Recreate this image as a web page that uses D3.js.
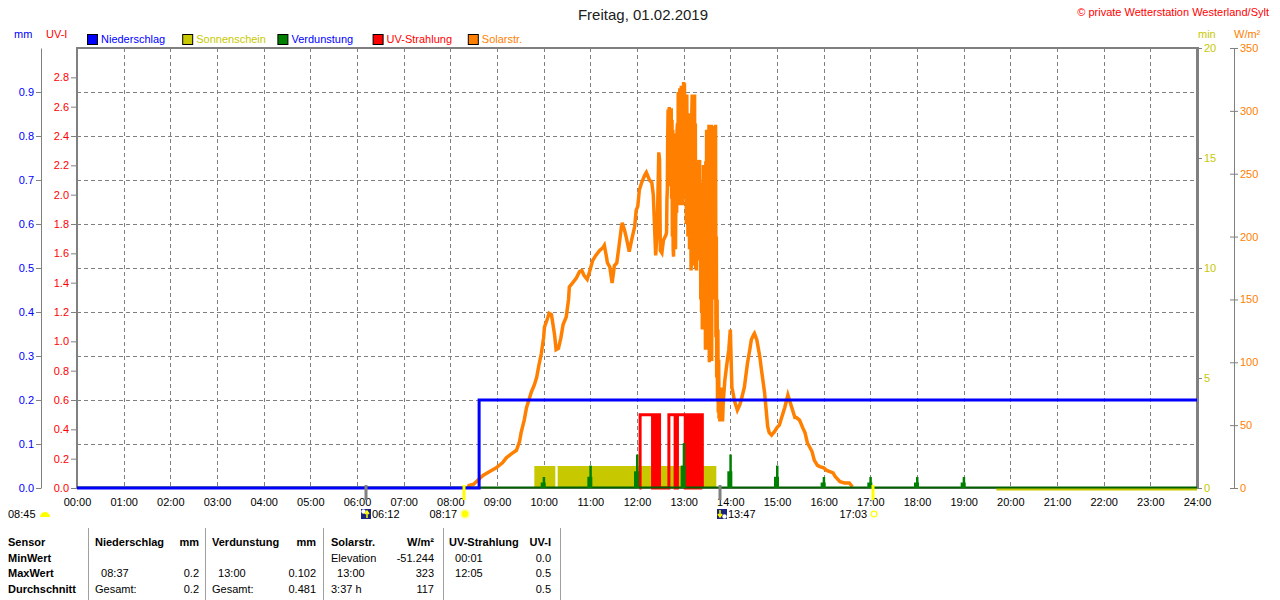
<!DOCTYPE html>
<html>
<head>
<meta charset="utf-8">
<script src="https://cdn.jsdelivr.net/npm/d3@7"></script>
<style>
body { margin: 0; background: #fff; }
svg text { font-family: "Liberation Sans", Arial, sans-serif; font-size: 11px; }
</style>
</head>
<body>
<svg id="chart" width="1280" height="600"></svg>
<script>
// ---- data ----
var hourTicks = [0,1,2,3,4,5,6,7,8,9,10,11,12,13,14,15,16,17,18,19,20,21,22,23,24];
var hourLabels = ["00:00","01:00","02:00","03:00","04:00","05:00","06:00","07:00","08:00","09:00","10:00","11:00",
    "12:00","13:00","14:00","15:00","16:00","17:00","18:00","19:00","20:00","21:00","22:00","23:00","24:00"];
var mmTicks = [0,0.1,0.2,0.3,0.4,0.5,0.6,0.7,0.8,0.9];
var uvTicks = [0,0.2,0.4,0.6,0.8,1.0,1.2,1.4,1.6,1.8,2.0,2.2,2.4,2.6,2.8];
var minTicks = [0,5,10,15,20];
var wTicks = [0,50,100,150,200,250,300,350];

var legendNames = ["Niederschlag","Sonnenschein","Verdunstung","UV-Strahlung","Solarstr."];
var legendFill = ["#0000ff","#c8c800","#008000","#ff0000","#ff8000"];
var legendText = ["#0000ff","#c8c800","#0000ff","#ff0000","#ff8000"];

// Niederschlag (mm, cumulative)
var rainTime = ["00:00","08:37","24:00"];
var rainValue = [0, 0.2, 0.2];

// Sonnenschein (min)
var sunStart = ["09:48","10:18","19:42"];
var sunEnd   = ["10:15","13:42","24:00"];
var sunValue = [1, 1, 0];

// Verdunstung (mm per hour)
var evapTime  = ["10:00","11:00","12:00","13:00","14:00","15:00","16:00","17:00","18:00","19:00"];
var evapValue = [0.025, 0.051, 0.076, 0.102, 0.076, 0.051, 0.025, 0.025, 0.025, 0.025];

// UV-Strahlung (UV-I)
var uvTime = ["12:03","12:04","12:20","12:21","12:22","12:23","12:24","12:25","12:26","12:27","12:29",
    "12:41","12:49","12:50","12:51","12:52","13:02","13:03","13:04","13:05","13:06","13:07","13:08","13:09",
    "13:10","13:11","13:12","13:13","13:15","13:16","13:17","13:18","13:19","13:20","13:21","13:22","13:24"];
var uvValue = [0,0.5,0,0.5,0,0.5,0,0.5,0,0.5,0,
    0.5,0,0.5,0,0.5,0,0.5,0,0.5,0,0.5,0,0.5,
    0,0.5,0,0.5,0,0.4,0,0.5,0,0.3,0,0.5,0];

// Solarstrahlung (W/m²)
var solarTime = ["08:23","08:24","08:30","08:35","08:42","08:50","08:59","09:07","09:12","09:18","09:25","09:29",
    "09:31","09:35","09:38","09:42","09:44","09:48","09:51","09:54","09:57","10:00","10:01","10:05","10:07","10:10",
    "10:11","10:14","10:16","10:19","10:22","10:25","10:29","10:32","10:33","10:37","10:42","10:46","10:49","10:52",
    "10:56","10:59","11:03","11:07","11:12","11:16","11:18","11:21","11:22","11:25","11:28","11:31","11:34","11:37",
    "11:40","11:41","11:44","11:46","11:50","11:53","11:57","11:59","12:01","12:03","12:06","12:10","12:12","12:16",
    "12:19","12:21","12:22","12:24","12:25","12:26","12:28","12:29","12:30","12:32","12:34","12:37",
    "12:38:00","12:38:30","12:39:00","12:39:30","12:40:00","12:40:30","12:41:00","12:41:30","12:42:00","12:42:30",
    "12:43:00","12:43:30","12:44:00","12:44:30","12:45:00","12:45:30","12:46:00","12:46:30","12:47:00","12:47:30",
    "12:48:00","12:48:30","12:49:00","12:49:30","12:50:00","12:50:30","12:51:00","12:51:30","12:52:00","12:52:30",
    "12:53:00","12:53:30","12:54:00","12:54:30","12:55:00","12:55:30","12:56:00","12:56:30","12:57:00","12:57:30",
    "12:58:00","12:58:30","12:59:00","12:59:30","13:00:00","13:00:30","13:01:00","13:01:30","13:02:00","13:02:30",
    "13:03:00","13:03:30","13:04:00","13:04:30","13:05:00","13:05:30","13:06:00","13:06:30","13:07:00","13:07:30",
    "13:08:00","13:08:30","13:09:00","13:09:30","13:10:00","13:10:30","13:11:00","13:11:30","13:12:00","13:12:30",
    "13:13:00","13:13:30","13:14:00","13:14:30","13:15:00","13:15:30","13:16:00","13:16:30","13:17:00","13:17:30",
    "13:18:00","13:18:30","13:19:00","13:19:30","13:20:00","13:20:30","13:21:00","13:21:30","13:22:00","13:22:30",
    "13:23:00","13:23:30","13:24:00","13:24:30","13:25:00","13:25:30","13:26:00","13:26:30","13:27:00","13:27:30",
    "13:28:00","13:28:30","13:29:00","13:29:30","13:30:00","13:30:30","13:31:00","13:31:30","13:32:00","13:32:30",
    "13:33:00","13:33:30","13:34:00","13:34:30","13:35:00","13:35:30","13:36:00","13:36:30","13:37:00","13:37:30",
    "13:38:00","13:38:30","13:39:00","13:39:30","13:40:00","13:40:30","13:41:00","13:41:30","13:42:00","13:42:30",
    "13:43:00","13:43:30","13:44:00","13:44:30","13:45:00","13:45:30","13:46:00","13:46:30","13:47:00",
    "13:49","13:50","13:51","13:53","13:55","13:58","14:00","14:02","14:04","14:05","14:08","14:09","14:12","14:14",
    "14:18","14:22","14:25","14:27","14:30","14:31","14:34","14:38","14:40","14:44","14:48","14:50","14:53","14:57",
    "15:00","15:03","15:06","15:10","15:14","15:16","15:19","15:23","15:25","15:29","15:33","15:36","15:39","15:45",
    "15:48","15:52","15:55","16:00","16:04","16:08","16:12","16:15","16:21","16:27","16:33","16:37"];
var solarValue = [0,2,3,6,10,13,16,20,24,27,30,37,
    44,54,64,72,76,82,88,98,107,120,128,135,139,138,
    134,122,110,111,119,130,136,150,160,163,167,172,173,169,
    166,172,181,185,189,191,193,183,179,176,163,177,179,193,
    208,211,205,200,188,197,208,221,224,237,243,249,251,245,
    243,233,217,185,195,205,267,261,189,187,197,201,
    203,230,237,280,301,250,296,303,240,298,
    245,290,302,230,293,200,285,190,184,270,
    282,210,260,190,229,275,219,285,290,230,
    315,240,305,225,318,250,318,235,320,260,
    315,225,239,310,323,270,322,240,239,305,
    313,210,313,250,295,200,207,290,298,190,
    298,208,280,173,180,300,313,200,313,177,
    305,180,313,177,290,175,260,173,250,185,
    261,181,240,183,230,261,183,243,150,243,
    140,229,126,240,150,257,130,255,134,230,
    110,260,120,285,130,240,110,250,120,289,
    100,270,115,285,105,289,101,280,150,288,
    181,250,150,230,184,150,289,120,200,88,
    150,70,126,60,102,55,68,53,70,
    80,53,70,86,96,110,126,80,74,70,64,62,66,70,
    80,99,110,118,122,123,118,104,94,76,49,44,42,45,
    48,50,56,64,74,70,64,56,56,54,48,44,36,29,
    22,18,17,16,14,13,12,9,5,4,4,1];

// Sonne / Mond
var sunrise = "08:17", sunset = "17:03", dayLength = "08:45";
var moonrise = "06:12", moonset = "13:47";

// Tabelle
var tableHead = ["Sensor","Niederschlag","mm","Verdunstung","mm","Solarstr.","W/m²","UV-Strahlung","UV-I"];
var rowLabels = ["MinWert","MaxWert","Durchschnitt"];
var rainRows  = [["",""],["  08:37","0.2"],["Gesamt:","0.2"]];
var evapRows  = [["",""],["  13:00","0.102"],["Gesamt:","0.481"]];
var solarRows = [["Elevation","-51.244"],["  13:00","323"],["3:37 h","117"]];
var uvRows    = [["  00:01","0.0"],["  12:05","0.5"],["","0.5"]];

// ---- chart ----
function toHour(s) {
    var p = s.split(":");
    return +p[0] + (+p[1]) / 60 + (p.length > 2 ? +p[2] / 3600 : 0);
}

var svg = d3.select("#chart");
var margin = {top: 48, right: 1197, bottom: 488, left: 77};

var x = d3.scaleLinear().domain([0, 24]).range([margin.left, margin.right]);
var yMm = d3.scaleLinear().domain([0, 1]).range([margin.bottom, margin.top]);
var yUv = d3.scaleLinear().domain([0, 3]).range([margin.bottom, margin.top]);
var yMin = d3.scaleLinear().domain([0, 20]).range([margin.bottom, margin.top]);
var yW = d3.scaleLinear().domain([0, 350]).range([margin.bottom, margin.top]);

var grey = "#808080";

// title + copyright
svg.append("text").attr("x", 643).attr("y", 20).attr("text-anchor", "middle")
    .style("font-size", "15px").attr("fill", "#202020").text("Freitag, 01.02.2019");
svg.append("text").attr("x", 1269).attr("y", 16).attr("text-anchor", "end")
    .attr("fill", "#ff0000").text("© private Wetterstation Westerland/Sylt");

// unit labels
svg.append("text").attr("x", 14).attr("y", 38).attr("fill", "#0000ff").text("mm");
svg.append("text").attr("x", 46).attr("y", 38).attr("fill", "#ff0000").text("UV-I");
svg.append("text").attr("x", 1198).attr("y", 38).attr("fill", "#c8c800").text("min");
svg.append("text").attr("x", 1234).attr("y", 38).attr("fill", "#ff8000").text("W/m²");

// legend
var legend = svg.append("g").selectAll("g").data(legendNames).join("g")
    .attr("transform", function(d, i) { return "translate(" + (87 + i * 95.2) + ",34)"; });
legend.append("rect").attr("x", 0.5).attr("y", 0.5).attr("width", 10).attr("height", 10)
    .attr("fill", function(d, i) { return legendFill[i]; }).attr("stroke", "#000");
legend.append("text").attr("x", 14).attr("y", 9)
    .attr("fill", function(d, i) { return legendText[i]; }).text(function(d) { return d; });

// grid
svg.append("g").selectAll("line").data(hourTicks.slice(1, -1)).join("line")
    .attr("x1", function(d) { return Math.round(x(d)) + 0.5; })
    .attr("x2", function(d) { return Math.round(x(d)) + 0.5; })
    .attr("y1", margin.top).attr("y2", margin.bottom)
    .attr("stroke", grey).attr("stroke-dasharray", "4,3");
svg.append("g").selectAll("line").data(mmTicks.slice(1)).join("line")
    .attr("x1", margin.left).attr("x2", margin.right)
    .attr("y1", function(d) { return Math.round(yMm(d)) + 0.5; })
    .attr("y2", function(d) { return Math.round(yMm(d)) + 0.5; })
    .attr("stroke", grey).attr("stroke-dasharray", "4,3");

// axes
function styleAxis(g, color) {
    g.selectAll("line").attr("stroke", grey);
    g.selectAll("path").attr("stroke", grey);
    g.selectAll("text").attr("fill", color)
        .style("font-family", "'Liberation Sans', Arial, sans-serif").style("font-size", "11px");
}
var f1 = d3.format(".1f");
svg.append("g").attr("transform", "translate(41,0)")
    .call(d3.axisLeft(yMm).tickValues(mmTicks).tickFormat(f1).tickSize(5).tickSizeOuter(0).tickPadding(2))
    .call(styleAxis, "#0000ff");
svg.append("g").attr("transform", "translate(" + margin.left + ",0)")
    .call(d3.axisLeft(yUv).tickValues(uvTicks).tickFormat(f1).tickSize(6).tickSizeOuter(0).tickPadding(2))
    .call(function(g) { g.select(".domain").remove(); })
    .call(styleAxis, "#ff0000");
svg.append("g").attr("transform", "translate(" + margin.right + ",0)")
    .call(d3.axisRight(yMin).tickValues(minTicks).tickSize(5).tickSizeOuter(0).tickPadding(2))
    .call(function(g) { g.select(".domain").remove(); })
    .call(styleAxis, "#c8c800");
svg.append("line").attr("x1", 1234.5).attr("x2", 1234.5).attr("y1", margin.top).attr("y2", margin.bottom)
    .attr("stroke", grey);
svg.append("g").attr("transform", "translate(1230,0)")
    .call(d3.axisRight(yW).tickValues(wTicks).tickSize(8).tickSizeOuter(0).tickPadding(2))
    .call(function(g) { g.select(".domain").remove(); })
    .call(styleAxis, "#ff8000");
svg.append("g").attr("transform", "translate(0," + margin.bottom + ")")
    .call(d3.axisBottom(x).tickValues(hourTicks).tickFormat(function(d, i) { return hourLabels[i]; })
        .tickSize(0).tickPadding(10))
    .call(function(g) { g.select(".domain").remove(); })
    .call(styleAxis, "#000");

// plot border
svg.append("rect").attr("x", margin.left).attr("y", margin.top)
    .attr("width", margin.right - margin.left).attr("height", margin.bottom - margin.top)
    .attr("fill", "none").attr("stroke", grey).attr("stroke-width", 2);
svg.append("line").attr("x1", margin.right + 0.5).attr("x2", margin.right + 0.5)
    .attr("y1", margin.top - 1).attr("y2", margin.bottom + 1).attr("stroke", grey).attr("stroke-width", 3);

// Sonnenschein bars
svg.append("g").selectAll("rect").data(sunValue).join("rect")
    .attr("x", function(d, i) { return x(toHour(sunStart[i])); })
    .attr("width", function(d, i) { return x(toHour(sunEnd[i])) - x(toHour(sunStart[i])); })
    .attr("y", function(d) { return d > 0 ? yMin(d) : yMin(0) - 1; })
    .attr("height", function(d) { return d > 0 ? yMin(0) - yMin(d) : 3.5; })
    .attr("fill", "#c8c800");

// Solarstrahlung
var solarData = solarTime.map(function(t, i) { return {t: toHour(t), v: solarValue[i]}; });
svg.append("path").datum(solarData)
    .attr("d", d3.line().x(function(d) { return x(d.t); }).y(function(d) { return yW(d.v); }))
    .attr("fill", "none").attr("stroke", "#ff8000").attr("stroke-width", 3.5);

// UV-Strahlung
var uvData = uvTime.map(function(t, i) { return {t: toHour(t), v: uvValue[i]}; });
svg.append("path").datum(uvData)
    .attr("d", d3.line().curve(d3.curveStepAfter).x(function(d) { return x(d.t); }).y(function(d) { return yUv(d.v); }))
    .attr("fill", "none").attr("stroke", "#ff0000").attr("stroke-width", 3);

// Verdunstung
svg.append("line").attr("x1", x(0)).attr("x2", x(24)).attr("y1", yMm(0) - 0.5).attr("y2", yMm(0) - 0.5)
    .attr("stroke", "#006000").attr("stroke-width", 2);
var evap = svg.append("g").selectAll("g").data(evapValue).join("g")
    .attr("transform", function(d, i) { return "translate(" + x(toHour(evapTime[i])) + ",0)"; });
evap.append("rect").attr("x", -3).attr("width", 5)
    .attr("y", function(d) { return yMm(d * 0.5); })
    .attr("height", function(d) { return yMm(0) - yMm(d * 0.5); }).attr("fill", "#008000");
evap.append("rect").attr("x", -1).attr("width", 2.5)
    .attr("y", function(d) { return yMm(d); })
    .attr("height", function(d) { return yMm(0) - yMm(d); }).attr("fill", "#008000");

// Niederschlag
var rainData = rainTime.map(function(t, i) { return {t: toHour(t), v: rainValue[i]}; });
svg.append("path").datum(rainData)
    .attr("d", d3.line().curve(d3.curveStepAfter).x(function(d) { return x(d.t); }).y(function(d) { return yMm(d.v); }))
    .attr("fill", "none").attr("stroke", "#0000ff").attr("stroke-width", 3);

// sun / moon markers on the time axis
function marker(t, color) {
    var px = Math.round(x(toHour(t)));
    svg.append("line").attr("x1", px).attr("x2", px).attr("y1", margin.bottom - 3).attr("y2", margin.bottom + 12)
        .attr("stroke", color).attr("stroke-width", 3);
    return px;
}
var mr = marker(moonrise, grey);
var ms = marker(moonset, grey);
var sr = marker(sunrise, "#ffff00");
var ss = marker(sunset, "#ffff00");

function moonIcon(px, up) {
    var g = svg.append("g").attr("transform", "translate(" + px + ",509)");
    g.append("rect").attr("width", 10).attr("height", 10).attr("fill", "#1a237e");
    g.append("circle").attr("cx", up ? 2.5 : 7.5).attr("cy", up ? 2.5 : 7.5).attr("r", 2.2).attr("fill", "#fff");
    g.append("path").attr("d", up ? "M6,9V3M4,5L6,2L8,5" : "M3,1V7M1,5L3,8L5,5")
        .attr("stroke", "#ffff00").attr("stroke-width", 1.5).attr("fill", "none");
}
moonIcon(mr - 5, true);
svg.append("text").attr("x", mr + 6).attr("y", 518).text(moonrise);
moonIcon(ms - 3, false);
svg.append("text").attr("x", ms + 8).attr("y", 518).text(moonset);

svg.append("text").attr("x", sr - 7).attr("y", 518).attr("text-anchor", "end").text(sunrise);
svg.append("circle").attr("cx", sr + 1).attr("cy", 514).attr("r", 5).attr("fill", "#ffffa0");
svg.append("circle").attr("cx", sr + 1).attr("cy", 514).attr("r", 3.2).attr("fill", "#ffff00");
svg.append("text").attr("x", ss - 6).attr("y", 518).attr("text-anchor", "end").text(sunset);
svg.append("circle").attr("cx", ss + 1).attr("cy", 514).attr("r", 2.8).attr("fill", "none")
    .attr("stroke", "#ffff00").attr("stroke-width", 1.2);

svg.append("text").attr("x", 8).attr("y", 518).text(dayLength);
svg.append("path").attr("d", "M40,517 A5,5 0 0 1 50,517 Z").attr("fill", "#ffff00");

// table
var table = svg.append("g");
[88, 205, 323, 443, 560].forEach(function(sx) {
    table.append("line").attr("x1", sx + 0.5).attr("x2", sx + 0.5).attr("y1", 528).attr("y2", 600)
        .attr("stroke", "#a0a0a0");
});
var rowY = [546, 562, 577, 593];
var headX = [8, 95, 199, 212, 316, 331, 434, 449, 551];
var headAnchor = ["start","start","end","start","end","start","end","start","end"];
tableHead.forEach(function(h, i) {
    table.append("text").attr("x", headX[i]).attr("y", rowY[0]).attr("text-anchor", headAnchor[i])
        .style("font-weight", "bold").text(h);
});
rowLabels.forEach(function(r, i) {
    table.append("text").attr("x", 8).attr("y", rowY[i + 1]).style("font-weight", "bold").text(r);
});
function tableCol(rows, lx, rx) {
    rows.forEach(function(r, i) {
        table.append("text").attr("x", lx).attr("y", rowY[i + 1]).style("white-space", "pre").text(r[0]);
        table.append("text").attr("x", rx).attr("y", rowY[i + 1]).attr("text-anchor", "end").text(r[1]);
    });
}
tableCol(rainRows, 95, 199);
tableCol(evapRows, 212, 316);
tableCol(solarRows, 331, 434);
tableCol(uvRows, 449, 551);
</script>
</body>
</html>
